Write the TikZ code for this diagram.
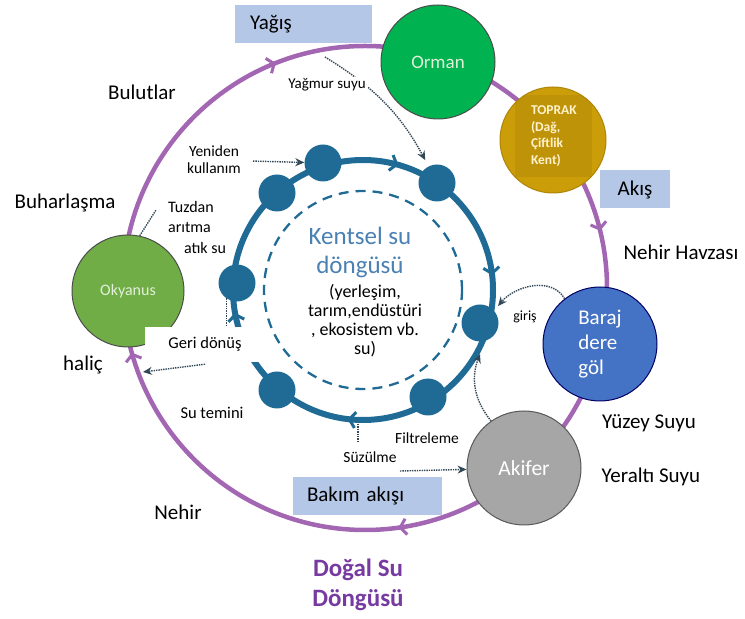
\documentclass[tikz,border=0pt]{standalone}
\usepackage{fontspec}
\setmainfont{Carlito}
\usetikzlibrary{arrows.meta,decorations.markings}

\definecolor{cyclepurple}{RGB}{163,102,178}
\definecolor{titlepurple}{RGB}{118,58,160}
\definecolor{urbanblue}{RGB}{31,107,150}
\definecolor{urbantext}{RGB}{74,128,178}
\definecolor{boxblue}{RGB}{180,199,231}
\definecolor{forestgreen}{RGB}{0,178,80}
\definecolor{oceangreen}{RGB}{112,173,71}
\definecolor{soilgold}{RGB}{203,157,8}
\definecolor{soildark}{RGB}{191,147,7}
\definecolor{soiltext}{RGB}{255,242,204}
\definecolor{paletext}{RGB}{226,240,217}
\definecolor{damblue}{RGB}{68,114,196}
\definecolor{aquigrey}{RGB}{166,166,166}
\definecolor{dotgrey}{RGB}{50,72,86}

\tikzset{chevron/.tip={Straight Barb[length=6pt,width=16pt,line width=3pt]}}

\begin{document}
\begin{tikzpicture}[x=1pt,y=1pt,
    bigtext/.style={font=\fontsize{21}{25}\selectfont},
    smalltext/.style={font=\fontsize{15.5}{17}\selectfont,fill=white,inner sep=2pt,align=center},
    stage/.style={circle,draw,line width=1pt,inner sep=0pt,align=left},
    flowbox/.style={fill=boxblue,minimum height=38pt,inner ysep=0pt,font=\fontsize{21}{25}\selectfont},
    bead/.style={circle,fill=urbanblue,minimum size=37pt,inner sep=0pt},
    dotline/.style={dotgrey,densely dotted,line width=1.4pt},
    dotarrow/.style={dotline,-{Stealth[length=9pt,width=8pt]}}]

\useasboundingbox (0,0) rectangle (745,619);
\coordinate (C) at (365,331);
\coordinate (K) at (363,329);

% outer (natural) cycle
\draw[cyclepurple,line width=4.5pt,postaction={decorate},decoration={markings,
    mark=at position 0.228 with {\arrow{chevron}},
    mark=at position 0.457 with {\arrow{chevron}},
    mark=at position 0.690 with {\arrow{chevron}},
    mark=at position 0.962 with {\arrow{chevron}}}]
    (C) ++(0:242) arc[start angle=0,end angle=-360,radius=242];

% inner (urban) cycle
\draw[urbanblue,line width=6pt,postaction={decorate},decoration={markings,
    mark=at position 0.269 with {\arrow{chevron}},
    mark=at position 0.472 with {\arrow{chevron}},
    mark=at position 0.794 with {\arrow{chevron}},
    mark=at position 0.982 with {\arrow{chevron}}}]
    (K) ++(0:130) arc[start angle=0,end angle=-360,radius=130];
\draw[urbanblue,line width=2.3pt,dash pattern=on 10pt off 7pt] (K) circle[radius=99];

\foreach \n/\p in {b1/{(323,456)},b2/{(277,426)},b3/{(437,436)},b4/{(237,336)},
                   b5/{(480,296)},b6/{(428,222)},b7/{(277,229)}}
    \node[bead] (\n) at \p {};

% stages on the natural cycle
\node[stage,fill=forestgreen,draw=black!70,minimum size=114pt,text=paletext,
      font=\fontsize{19}{22}\selectfont] (orman) at (438,557) {Orman};
\node[stage,fill=soilgold,draw=soilgold!85!black,minimum size=106pt,
      path picture={\fill[soildark] ([shift={(-38.5pt,-37pt)}]path picture bounding box.center)
      rectangle ++(77pt,82pt);}] (toprak) at (553,479) {};
\node[text width=50pt,align=left,text=soiltext,
      font=\bfseries\fontsize{13.5}{16.7}\selectfont] (topraktxt) at (556,483)
      {TOPRAK\\(Dağ,\\Çiftlik\\Kent)};
\node[stage,fill=damblue,draw=black!60!blue,minimum size=114pt,text=white,
      font=\fontsize{21}{25}\selectfont] (baraj) at (600,275) {Baraj\\dere\\göl};
\node[stage,fill=aquigrey,draw=black!65,minimum size=114pt,text=white,
      font=\fontsize{21.5}{25}\selectfont] (akifer) at (524,151) {Akifer};
\node[stage,fill=oceangreen,draw=black!70,minimum size=112pt,text=paletext,
      font=\fontsize{16}{19}\selectfont] (okyanus) at (128,328) {Okyanus};

\coordinate (rainpt) at (325,562);
\draw[dotarrow,shorten >=7pt] (rainpt) to[bend left=15] (b3);

% boxes and labels
\node[flowbox,text width=107pt,inner xsep=15pt,align=left] (yagis) at (303.5,595) {Yağış};
\node[flowbox,minimum width=70pt] (akis) at (635,429.5) {Akış};
\node[flowbox,text width=121pt,inner xsep=14pt,align=left] (bakim) at (367.5,123) {Bakım akışı};

\node[bigtext] (bulutlar) at (142,527) {Bulutlar};
\node[bigtext] (buhar) at (65,416) {Buharlaşma};
\node[bigtext] (halic) at (83,254) {haliç};
\node[bigtext] (nehir) at (178,107) {Nehir};
\node[bigtext] (havza) at (681,367) {Nehir Havzası};
\node[bigtext] (yuzey) at (649,196) {Yüzey Suyu};
\node[bigtext] (yeralti) at (651,142) {Yeraltı Suyu};

\node[font=\fontsize{25}{29}\selectfont,text=urbantext,align=center] (kentsel) at (360,367)
    {Kentsel su\\döngüsü};
\node[font=\fontsize{18}{19}\selectfont,align=center] (kullan) at (365,298)
    {(yerleşim,\\tarım,endüstüri\\, ekosistem vb.\\su)};

\node[smalltext,font=\fontsize{15}{17}\selectfont] (yagmur) at (327,534) {Yağmur suyu};
\node[smalltext,inner xsep=12pt] (yeniden) at (214,459) {Yeniden\\kullanım};
\node[smalltext,align=left,font=\fontsize{16}{20}\selectfont] (tuzdan) at (191,402) {Tuzdan\\arıtma};
\node[smalltext,font=\fontsize{16}{19}\selectfont] (atiksu) at (205,371) {atık su};
\node[smalltext,font=\fontsize{16.5}{19}\selectfont,minimum width=120pt,minimum height=35pt]
    (geri) at (205,274.5) {Geri dönüş};
\node[smalltext,font=\fontsize{16.5}{19}\selectfont] (temin) at (212,206) {Su temini};
\node[smalltext] (suzulme) at (370,162) {Süzülme};
\node[smalltext] (filtre) at (427,181) {Filtreleme};
\node[smalltext,font=\fontsize{14}{17}\selectfont] (giris) at (525,302) {giriş};

\node[font=\bfseries\fontsize{25}{30}\selectfont,text=titlepurple,align=center] (title) at (358,34)
    {Doğal Su\\Döngüsü};

% dotted flows
\coordinate (desal) at (156,409);
\coordinate (estuary) at (143,247);
\coordinate (infil) at (358,195);
\coordinate (infilend) at (358,178);
\coordinate (seep) at (400,148);
\coordinate (filtpt) at (480,265);
\coordinate (inlet) at (498,313);
\draw[dotarrow] (yeniden) -- (b1);
\draw[dotline] (okyanus.78) -- (desal);
\draw[dotline] (b4.235) -- (b4.235 |- geri.north);
\draw[dotarrow] ([yshift=-2pt]geri.south) -- (estuary);
\draw[dotline] (infil) -- (infilend);
\draw[dotarrow] (seep) -- (akifer);
\draw[dotarrow] (akifer.125) to[bend left=30] (filtpt);
\draw[dotarrow] (baraj.128) to[out=120,in=50] (inlet);
\end{tikzpicture}
\end{document}
